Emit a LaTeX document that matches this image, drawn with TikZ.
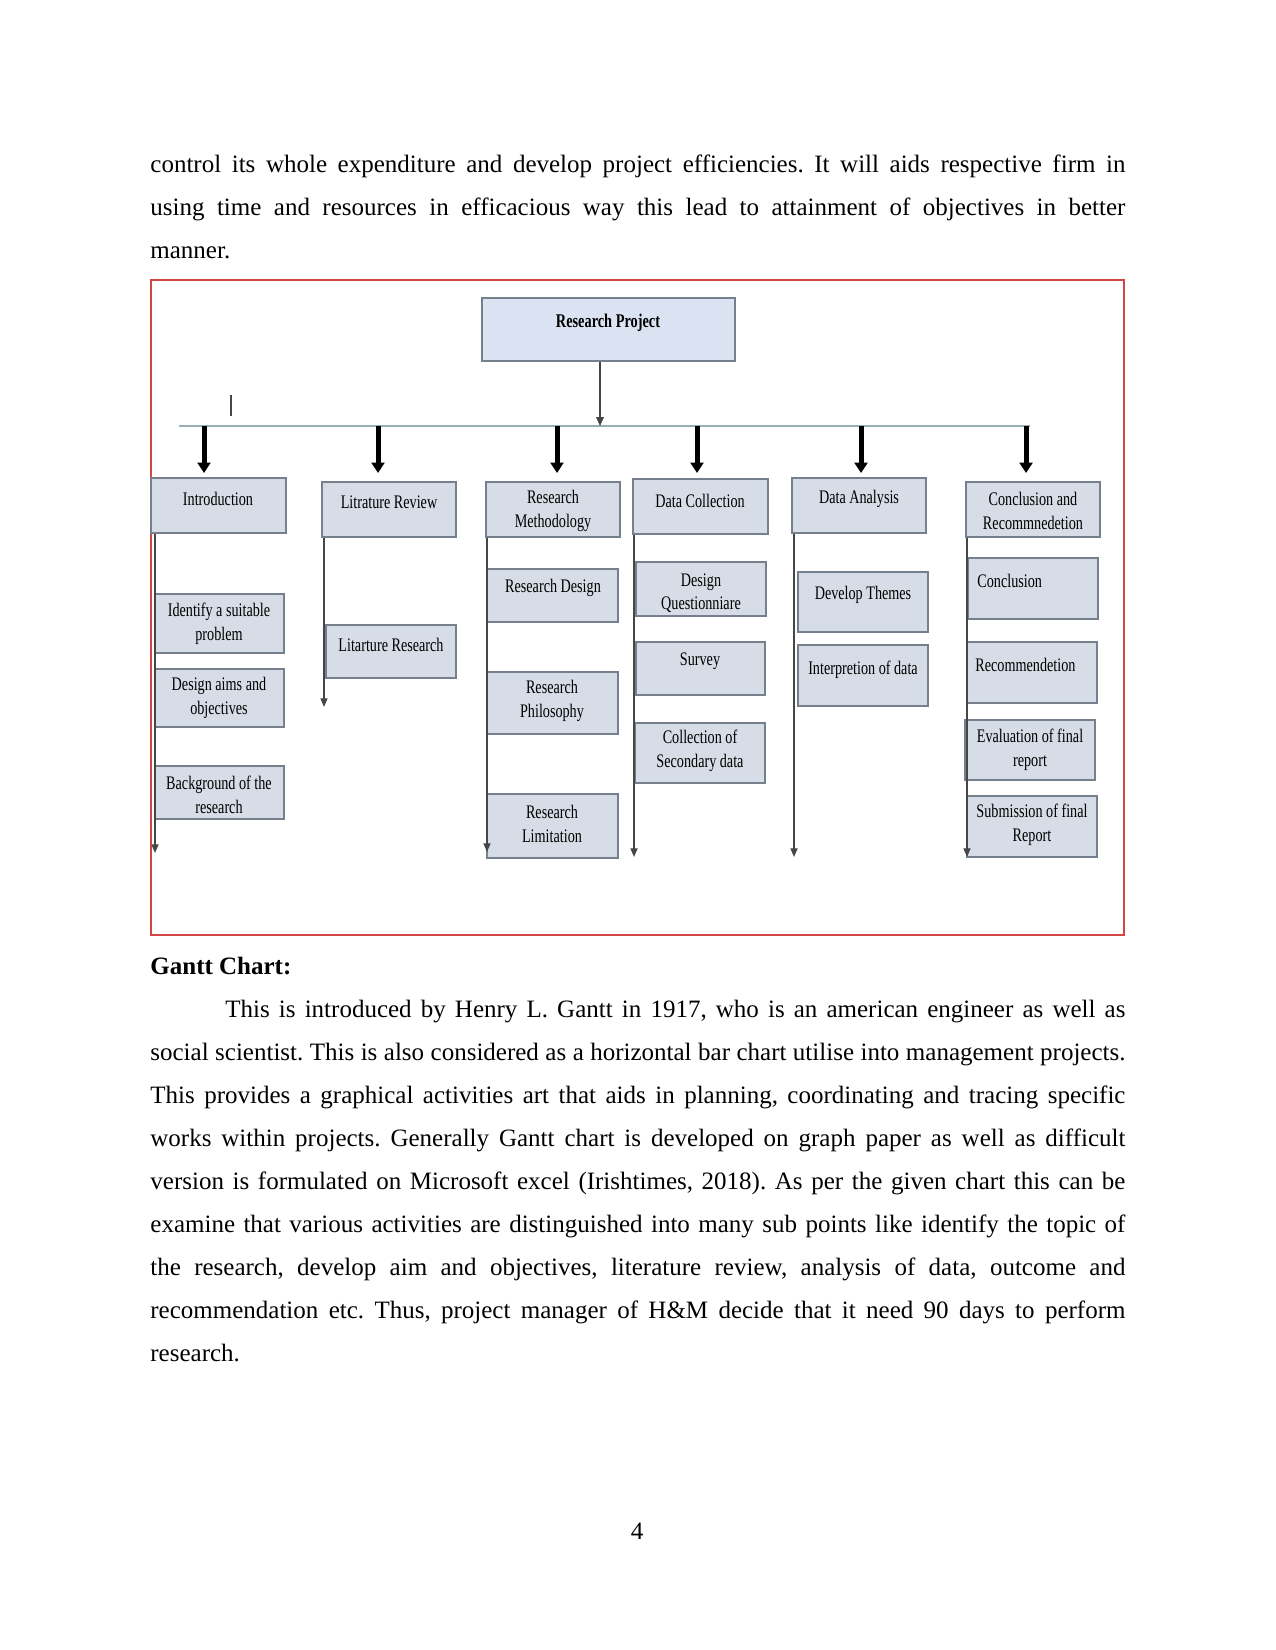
\documentclass[tikz,border=0pt]{standalone}
\usepackage{fontspec}
\setmainfont{Liberation Serif}
\newfontfamily\diafont{Liberation Serif}[FakeStretch=0.74]
\usetikzlibrary{arrows.meta,fit}
\definecolor{boxfill}{RGB}{214,221,230}
\definecolor{rpfill}{RGB}{219,227,242}
\definecolor{boxdraw}{RGB}{118,128,140}
\definecolor{busline}{RGB}{150,174,180}
\definecolor{colline}{RGB}{70,70,70}
\definecolor{framered}{RGB}{212,70,70}
\newcommand{\jl}[1]{\hbox to 468pt{#1}}
\newcommand{\jli}[1]{\hbox to 432pt{#1}}
\frenchspacing
\begin{document}
\frenchspacing
\begin{tikzpicture}[x=0.48pt,y=-0.48pt,
  box/.style={draw=boxdraw,fill=boxfill,line width=0.7pt,inner sep=0pt},
  rpbox/.style={draw=boxdraw,fill=rpfill,line width=0.7pt,inner sep=0pt},
  lbl/.style={inner sep=0pt,align=center,font=\diafont\fontsize{9.2pt}{11.3pt}\selectfont},
  bodyline/.style={inner sep=0pt,anchor=base west,font=\fontsize{12pt}{14pt}\selectfont\frenchspacing},
  busln/.style={draw=busline,line width=1pt},
  bigarrow/.style={draw=black,line width=2.4pt,-{Triangle[width=6.2pt,length=5pt]}},
  colarrow/.style={draw=colline,line width=0.65pt,-{Triangle[width=3.4pt,length=4.2pt]}},
  rparrow/.style={draw=colline,line width=0.65pt,-{Triangle[width=3.6pt,length=4.2pt]}}
]
\useasboundingbox (0,0) rectangle (1275,1650);
\fill[white] (0,0) rectangle (1275,1650);

% ---- body text above ----
\node[bodyline] (p1a) at (150,173) {\jl{control its whole expenditure and develop project efficiencies. It will aids respective firm in}};
\node[bodyline] (p1b) at (150,216) {\jl{using time and resources in efficacious way this lead to attainment of objectives in better}};
\node[bodyline] (p1c) at (150,259) {manner.};

% ---- frame ----
\draw[framered,line width=0.8pt] (151,280) rectangle (1124,935);

% ---- boxes ----
\node[rpbox,fit={(482,298) (735,361)}] (rp) {};
\node[box,fit={(151,478) (286,533)}] (intro) {};
\node[box,fit={(322,482) (456,537)}] (lit) {};
\node[box,fit={(486,482) (620,537)}] (rm) {};
\node[box,fit={(633,479) (768,534)}] (dc) {};
\node[box,fit={(792,478) (926,533)}] (da) {};
\node[box,fit={(966,482) (1100,537)}] (cr) {};

\node[box,fit={(155,594) (284,653)}] (idp) {};
\node[box,fit={(155,669) (284,727)}] (dao) {};
\node[box,fit={(155,766) (284,819)}] (bgr) {};

\node[box,fit={(326,625) (456,678)}] (lres) {};

\node[box,fit={(487,569) (618,622)}] (rd) {};
\node[box,fit={(487,672) (618,734)}] (rph) {};
\node[box,fit={(487,794) (618,858)}] (rl) {};

\node[box,fit={(636,562) (766,616)}] (dq) {};
\node[box,fit={(636,642) (765,695)}] (sv) {};
\node[box,fit={(635,723) (765,783)}] (csd) {};

\node[box,fit={(798,572) (928,632)}] (dt) {};
\node[box,fit={(798,645) (928,706)}] (iod) {};

\node[box,fit={(968,558) (1098,619)}] (con) {};
\node[box,fit={(967,642) (1097,703)}] (rec) {};
\node[box,fit={(965,720) (1095,780)}] (ev) {};
\node[box,fit={(967,796) (1097,857)}] (sub) {};

% ---- labels ----
\node[lbl,font=\diafont\bfseries\fontsize{9.3pt}{11.3pt}\selectfont] (rp-t) at (608,323) {Research Project};
\node[lbl] (intro-t) at (218,499) {Introduction};
\node[lbl] (lit-t) at (389,502) {Litrature Review};
\node[lbl] (rm-t) at (553,511) {Research\\Methodology};
\node[lbl] (dc-t) at (700,501) {Data Collection};
\node[lbl] (da-t) at (859,499) {Data Analysis};
\node[lbl] (cr-t) at (1033,511) {Conclusion and\\Recommnedetion};

\node[lbl] (idp-t) at (219,624) {Identify a suitable\\problem};
\node[lbl] (dao-t) at (219,698) {Design aims and\\objectives};
\node[lbl] (bgr-t) at (219,795) {Background of the\\research};

\node[lbl] (lres-t) at (391,645) {Litarture Research};

\node[lbl] (rd-t) at (553,588) {Research Design};
\node[lbl] (rph-t) at (552,701) {Research\\Philosophy};
\node[lbl] (rl-t) at (552,824) {Research\\Limitation};

\node[lbl] (dq-t) at (701,593) {Design\\Questionniare};
\node[lbl] (sv-t) at (700,661) {Survey};
\node[lbl] (csd-t) at (700,751) {Collection of\\Secondary data};

\node[lbl] (dt-t) at (863,595) {Develop Themes};
\node[lbl] (iod-t) at (863,670) {Interpretion of data};

\node[lbl,anchor=west] (con-t) at (977,581) {Conclusion};
\node[lbl,anchor=west] (rec-t) at (975,665) {Recommendetion};
\node[lbl] (ev-t) at (1030,750) {Evaluation of final\\report};
\node[lbl] (sub-t) at (1032,825) {Submission of final\\Report};

% ---- connectors ----
\coordinate (busL) at (179,426);
\coordinate (busR) at (1030,426);
\coordinate (busM) at (600,426);
\draw[busln] (busL) -- (busR);
\draw[rparrow] (rp.south -| busM) -- (busM);

\coordinate (tIntro) at (204,473);
\coordinate (tLit) at (378,473);
\coordinate (tRm) at (557,473);
\coordinate (tDc) at (697,473);
\coordinate (tDa) at (861,473);
\coordinate (tCr) at (1026,473);
\foreach \t in {tIntro,tLit,tRm,tDc,tDa,tCr}{
  \draw[bigarrow] (\t |- busL) -- (\t);
}

\coordinate (eIntro) at (155,853);
\coordinate (eLit) at (324,707);
\coordinate (eRm) at (487,852);
\coordinate (eDc) at (634,857);
\coordinate (eDa) at (794,857);
\coordinate (eCr) at (967,857);
\draw[colarrow] (intro.south -| eIntro) -- (eIntro);
\draw[colarrow] (lit.south -| eLit) -- (eLit);
\draw[colarrow] (rm.south -| eRm) -- (eRm);
\draw[colarrow] (dc.south -| eDc) -- (eDc);
\draw[colarrow] (da.south -| eDa) -- (eDa);
\draw[colarrow] (cr.south -| eCr) -- (eCr);

% stray mark
\draw[colline,line width=0.5pt] (231,395) -- (231,416);

% ---- body text below ----
\node[bodyline,font=\bfseries\fontsize{12pt}{14pt}\selectfont] (gantt) at (150,974) {Gantt Chart:};
\node[bodyline] (p2a) at (225,1017) {\jli{This is introduced by Henry L. Gantt in 1917, who is an american engineer as well as}};
\node[bodyline] (p2b) at (150,1060) {\jl{social scientist. This is also considered as a horizontal bar chart utilise into management projects.}};
\node[bodyline] (p2c) at (150,1103) {\jl{This provides a graphical activities art that aids in planning, coordinating and tracing specific}};
\node[bodyline] (p2d) at (150,1146) {\jl{works within projects. Generally Gantt chart is developed on graph paper as well as difficult}};
\node[bodyline] (p2e) at (150,1189) {\jl{version is formulated on Microsoft excel (Irishtimes, 2018). As per the given chart this can be}};
\node[bodyline] (p2f) at (150,1232) {\jl{examine that various activities are distinguished into many sub points like identify the topic of}};
\node[bodyline] (p2g) at (150,1275) {\jl{the research, develop aim and objectives, literature review, analysis of data, outcome and}};
\node[bodyline] (p2h) at (150,1318) {\jl{recommendation etc. Thus, project manager of H\&M decide that it need 90 days to perform}};
\node[bodyline] (p2i) at (150,1361) {research.};

\node[bodyline,anchor=base] (pnum) at (637,1539) {4};
\end{tikzpicture}
\end{document}
